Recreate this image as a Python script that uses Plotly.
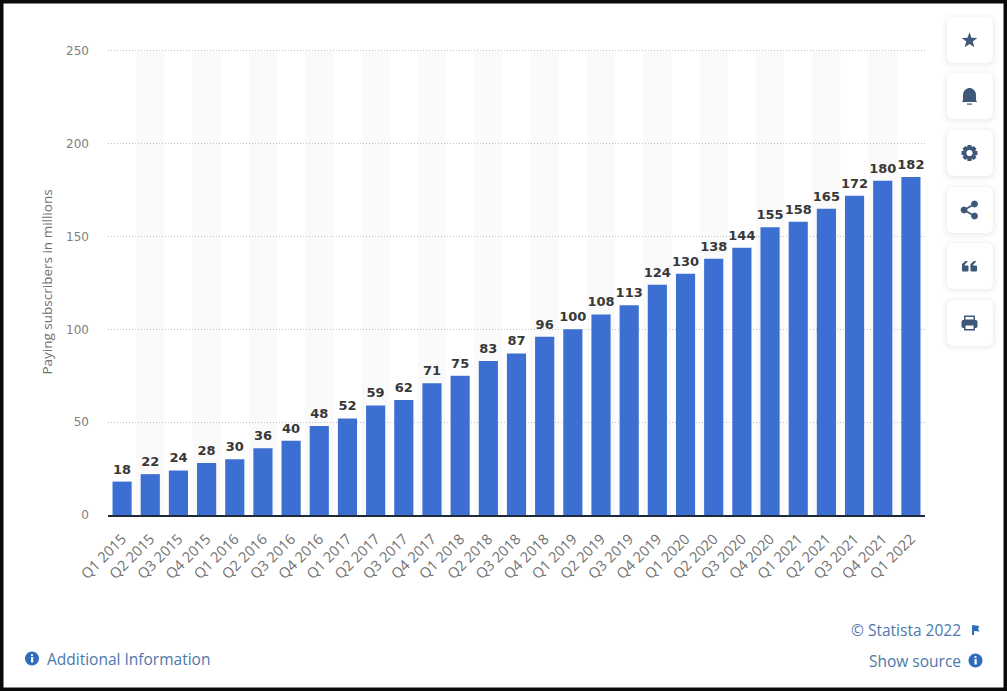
#!/usr/bin/python
# Paying subscribers per quarter, statista style page
import math
import plotly.graph_objects as go

W = 1007
H = 691
# plot box on the page, TOP leaves one unit of headroom over the 250 line
LEFT = 108
RIGHT = 925
TOP = 49
BOTTOM = 515

quarters = ['Q1 2015', 'Q2 2015', 'Q3 2015', 'Q4 2015',
            'Q1 2016', 'Q2 2016', 'Q3 2016', 'Q4 2016',
            'Q1 2017', 'Q2 2017', 'Q3 2017', 'Q4 2017',
            'Q1 2018', 'Q2 2018', 'Q3 2018', 'Q4 2018',
            'Q1 2019', 'Q2 2019', 'Q3 2019', 'Q4 2019',
            'Q1 2020', 'Q2 2020', 'Q3 2020', 'Q4 2020',
            'Q1 2021', 'Q2 2021', 'Q3 2021', 'Q4 2021',
            'Q1 2022']
subscribers = [18, 22, 24, 28, 30, 36, 40, 48, 52, 59, 62, 71, 75, 83, 87, 96,
               100, 108, 113, 124, 130, 138, 144, 155, 158, 165, 172, 180, 182]
y_ticks = [0, 50, 100, 150, 200, 250]

BLUE = '#3c6fd1'
ICON = '#3f5878'
LINK = '#4c78ac'


# page px -> paper coords (paper is the plot box)
def to_paper(px, py):
    return (px - LEFT) / (RIGHT - LEFT), (BOTTOM - py) / (BOTTOM - TOP)


def poly(points):
    out = []
    for i, (px, py) in enumerate(points):
        out.append(('M' if i == 0 else 'L') + '%.5f,%.5f' % to_paper(px, py))
    return ' '.join(out) + ' Z'


def circle_pts(cx, cy, r, n=28):
    return [(cx + r * math.cos(2 * math.pi * i / n), cy + r * math.sin(2 * math.pi * i / n)) for i in range(n)]


def rounded_pts(x0, y0, x1, y1, r):
    pts = []
    corners = [(x1 - r, y0 + r, -90), (x1 - r, y1 - r, 0), (x0 + r, y1 - r, 90), (x0 + r, y0 + r, 180)]
    for cx, cy, start in corners:
        for k in range(7):
            a = math.radians(start + k * 15)
            pts.append((cx + r * math.cos(a), cy + r * math.sin(a)))
    return pts


def add_poly(fig, points, color):
    fig.add_shape(type='path', xref='paper', yref='paper', path=poly(points),
                  fillcolor=color, line_width=0, layer='above')


fig = go.Figure()

fig.add_trace(go.Bar(x=quarters, y=subscribers,
                     marker=dict(color=BLUE, line_width=0),
                     width=0.68,
                     hoverinfo='skip'))

# labels sit a bit higher than bar text would, so they get their own trace
fig.add_trace(go.Scatter(x=quarters, y=subscribers,
                         mode='markers+text',
                         marker=dict(size=6, opacity=0),
                         text=subscribers,
                         textposition='top center',
                         cliponaxis=False,
                         textfont=dict(family='DejaVu Sans', size=13, color='#383838', weight='bold'),
                         hoverinfo='skip'))

# the faint alternating columns
for i in range(1, len(quarters), 2):
    fig.add_shape(type='rect', xref='x', yref='y', x0=i - 0.5, x1=i + 0.5, y0=0, y1=y_ticks[-1],
                  fillcolor='#fafafa', line_width=0, layer='below')

# side buttons
card_tops = [17, 73, 130, 187, 243, 300]
for top in card_tops:
    for grow, col in [(5, 'rgba(120,130,150,0.025)'), (3, 'rgba(120,130,150,0.035)'), (1, 'rgba(120,130,150,0.05)')]:
        add_poly(fig, rounded_pts(947 - grow, top - grow + 1, 993 + grow, top + 46 + grow + 1, 6 + grow), col)
    add_poly(fig, rounded_pts(947, top, 993, top + 46, 6), '#ffffff')

cx = 969.5

# star
cy = card_tops[0] + 23
star = []
for i in range(10):
    r = 8.2 if i % 2 == 0 else 3.4
    a = math.radians(-90 + i * 36)
    star.append((cx + r * math.cos(a), cy + 0.5 + r * math.sin(a)))
add_poly(fig, star, ICON)

# bell
cy = card_tops[1] + 23
bell = [(cx + 6.5 * math.cos(math.radians(a)), cy - 1 + 7 * math.sin(math.radians(a))) for a in range(180, 361, 20)]
bell += [(cx + 6.5, cy + 4), (cx + 7.5, cy + 6), (cx - 7.5, cy + 6), (cx - 6.5, cy + 4)]
add_poly(fig, bell, ICON)
add_poly(fig, [(cx - 2.5, cy + 7.5), (cx + 2.5, cy + 7.5), (cx + 2.5, cy + 8.7), (cx - 2.5, cy + 8.7)], ICON)

# gear
cy = card_tops[2] + 23
gear = []
for i in range(8):
    a = i * 45
    for d, r in [(-14, 8.2), (14, 8.2), (22, 6.2), (-22 + 45, 6.2)]:
        gear.append((cx + r * math.cos(math.radians(a + d)), cy + r * math.sin(math.radians(a + d))))
add_poly(fig, gear, ICON)
add_poly(fig, circle_pts(cx, cy, 3.1), '#ffffff')

# share
cy = card_tops[3] + 23
a_pt, b_pt, c_pt = (cx + 5, cy - 6), (cx - 5.5, cy), (cx + 5, cy + 6)
for p in (a_pt, c_pt):
    add_poly(fig, [(p[0], p[1] - 1), (p[0], p[1] + 1), (b_pt[0], b_pt[1] + 1), (b_pt[0], b_pt[1] - 1)], ICON)
for p in (a_pt, b_pt, c_pt):
    add_poly(fig, circle_pts(p[0], p[1], 3.4), ICON)

# quotes
cy = card_tops[4] + 23
for dx in (-7.5, 1):
    add_poly(fig, rounded_pts(cx + dx, cy - 0.5, cx + dx + 6.5, cy + 5.5, 1), ICON)
    add_poly(fig, [(cx + dx, cy + 1), (cx + dx, cy - 2), (cx + dx + 3.5, cy - 5), (cx + dx + 6, cy - 5),
                   (cx + dx + 2.5, cy - 1), (cx + dx + 2.5, cy + 1)], ICON)

# printer
cy = card_tops[5] + 23
add_poly(fig, rounded_pts(cx - 8, cy - 3, cx + 8, cy + 5, 2), ICON)
add_poly(fig, [(cx - 5.5, cy - 7.5), (cx + 5.5, cy - 7.5), (cx + 5.5, cy - 3), (cx - 5.5, cy - 3)], ICON)
add_poly(fig, [(cx - 4, cy - 6), (cx + 4, cy - 6), (cx + 4, cy - 3.5), (cx - 4, cy - 3.5)], '#ffffff')
add_poly(fig, [(cx - 5.5, cy + 1), (cx + 5.5, cy + 1), (cx + 5.5, cy + 7.5), (cx - 5.5, cy + 7.5)], ICON)
add_poly(fig, [(cx - 4, cy + 2.5), (cx + 4, cy + 2.5), (cx + 4, cy + 6), (cx - 4, cy + 6)], '#ffffff')

# info dots
for dot_x, dot_y in [(32, 658.5), (975.5, 660.5)]:
    add_poly(fig, circle_pts(dot_x, dot_y, 7), '#2f6dbb')
    add_poly(fig, [(dot_x - 1, dot_y - 1.5), (dot_x + 1.2, dot_y - 1.5), (dot_x + 1.2, dot_y + 4), (dot_x - 1, dot_y + 4)], '#ffffff')
    add_poly(fig, circle_pts(dot_x, dot_y - 3.5, 1.1, 10), '#ffffff')

# flag
add_poly(fig, [(972, 625), (979.5, 626), (978, 628.5), (979.5, 631.5), (974, 631), (974, 635), (972, 635)], '#2f6dbb')

# page frame, half of the line width falls off the page
fx0, fy0 = to_paper(0, H)
fx1, fy1 = to_paper(W, 0)
fig.add_shape(type='rect', xref='paper', yref='paper', x0=fx0, x1=fx1, y0=fy0, y1=fy1,
              line=dict(color='#0a0a0a', width=7), fillcolor='rgba(0,0,0,0)', layer='above')


def px_note(text, x, y, anchor, size, color):
    nx, ny = to_paper(x, y)
    fig.add_annotation(text=text, xref='paper', yref='paper', x=nx, y=ny,
                       xanchor=anchor, yanchor='middle', showarrow=False,
                       font=dict(family='Open Sans', size=size, color=color))


px_note('Additional Information', 45, 658.5, 'left', 15.5, LINK)
px_note('© Statista 2022', 963, 630, 'right', 15.5, LINK)
px_note('Show source', 963, 661, 'right', 15.5, LINK)

fig.update_layout(
    width=W,
    height=H,
    margin=dict(l=LEFT, r=W - RIGHT, t=TOP, b=H - BOTTOM),
    paper_bgcolor='#ffffff',
    plot_bgcolor='#ffffff',
    showlegend=False,
)
fig.update_xaxes(
    type='category',
    range=[-0.5, len(quarters) - 0.5],
    tickangle=-45,
    ticks='',
    ticklabelstandoff=8,
    tickfont=dict(family='Open Sans', size=14.5, color='#707070'),
    showgrid=False,
    zeroline=False,
    showline=True,
    linecolor='#1d2a3a',
    linewidth=1.5,
    automargin=False,
    ticklabeloverflow='allow',
)
fig.update_yaxes(
    # one unit over the top tick, the edge gridline is dropped otherwise
    range=[0, y_ticks[-1] + 1],
    tickvals=y_ticks,
    ticks='',
    ticklabelstandoff=18,
    tickfont=dict(family='DejaVu Sans', size=12, color='#808080'),
    showgrid=True,
    gridcolor='#c0c0c0',
    griddash='1px,2px',
    gridwidth=1,
    zeroline=False,
    showline=False,
    automargin=False,
    title=dict(text='Paying subscribers in millions', standoff=10,
               font=dict(family='Open Sans', size=13.5, color='#707070')),
)

fig.write_html("out.html", post_script="document.body.style.margin='0';document.documentElement.style.overflow='hidden';", config={'displayModeBar': False})
